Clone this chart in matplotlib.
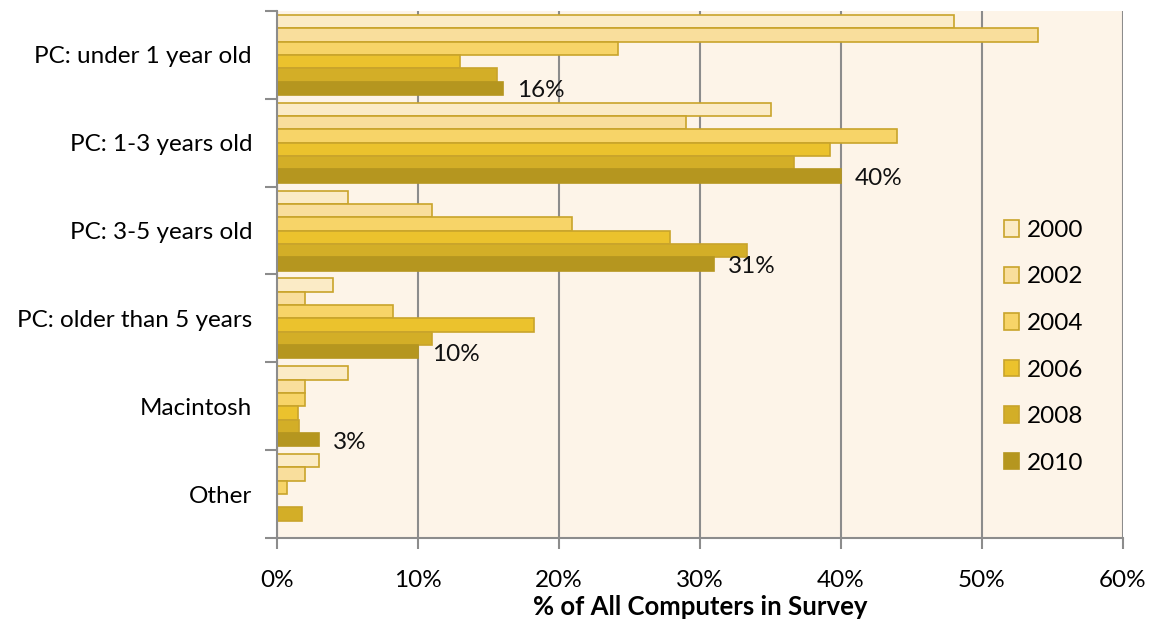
import matplotlib
matplotlib.use("Agg")
import matplotlib.pyplot as plt
import numpy as np
from matplotlib.ticker import FixedLocator, FuncFormatter
from matplotlib.patches import Patch

categories = ["PC: under 1 year old", "PC: 1-3 years old", "PC: 3-5 years old",
              "PC: older than 5 years", "Macintosh", "Other"]
years = ["2000", "2002", "2004", "2006", "2008", "2010"]
values = {
    "2000": [48, 35, 5, 4, 5, 3],
    "2002": [54, 29, 11, 2, 2, 2],
    "2004": [24.2, 44, 20.9, 8.2, 2, 0.7],
    "2006": [13, 39.2, 27.9, 18.2, 1.5, 0],
    "2008": [15.6, 36.7, 33.3, 11, 1.55, 1.8],
    "2010": [16, 40, 31, 10, 3, 0],
}
labels_2010 = ["16%", "40%", "31%", "10%", "3%", ""]
xticks = [0, 10, 20, 30, 40, 50, 60]

fills = ["#FBEBC6", "#F9DE9C", "#F7D468", "#EBC22D", "#D3AE27", "#B5961F"]
edges = ["#C9A42B", "#C9A42B", "#C9A42B", "#C9A42B", "#C9A42B", "#B5961F"]

plt.rcParams['font.family'] = ['Lato', 'DejaVu Sans']
FS = 17.5

fig = plt.figure(figsize=(11.54, 6.27), dpi=100)
ax = fig.add_axes([277/1154, 1-538/627, (1123-277)/1154, (538-11)/627])
ax.set_facecolor("#FDF4E8")

n = len(years)
bh = 0.152
group_span = bh * n
centers = np.arange(len(categories))
for i, y in enumerate(years):
    pos = centers - group_span/2 + bh*(i+0.5)
    ax.barh(pos, values[y], height=bh, color=fills[i], edgecolor=edges[i],
            linewidth=1.2, label=y, zorder=3)
    if y == "2010":
        for p, v, t in zip(pos, values[y], labels_2010):
            if t:
                ax.text(v + 1.0, p + 0.03, t, va="center", ha="left",
                        fontsize=FS, color="#111111", zorder=4)

ax.set_xlim(0, 60)
ax.set_ylim(len(categories) - 0.5, -0.5)
ax.set_xticks(xticks)
ax.xaxis.set_major_formatter(FuncFormatter(lambda v, p: f"{int(v)}%"))
ax.set_yticks(centers)
ax.set_yticklabels(categories)
ax.yaxis.set_minor_locator(FixedLocator(np.arange(-0.5, len(categories), 1.0)))
ax.tick_params(axis="y", which="major", length=0, pad=18, labelsize=FS)
ax.tick_params(axis="y", which="minor", length=9, width=1.5, color="#8C8C8C")
ax.tick_params(axis="x", which="major", length=8, width=1.5, color="#8C8C8C",
               pad=15, labelsize=FS)
ax.grid(axis="x", color="#8C8C8C", linewidth=1.5, zorder=1)
for s in ["top", "right"]:
    ax.spines[s].set_visible(False)
for s in ["left", "bottom"]:
    ax.spines[s].set_color("#8C8C8C")
    ax.spines[s].set_linewidth(1.5)
    ax.spines[s].set_zorder(5)

ax.set_xlabel("% of All Computers in Survey", fontsize=18.5, fontweight="bold", labelpad=3)

handles = [Patch(facecolor=fills[i], edgecolor=edges[i] if i < 5 else fills[i], linewidth=1.2)
           for i in range(n)]
leg = ax.legend(handles, years, loc="upper left", bbox_to_anchor=(0.833, 0.645),
                frameon=False, fontsize=FS, handlelength=0.65, handleheight=0.65,
                handletextpad=0.3, labelspacing=1.05)
leg.set_zorder(6)

fig.savefig("out.png", dpi=100, facecolor="white")
